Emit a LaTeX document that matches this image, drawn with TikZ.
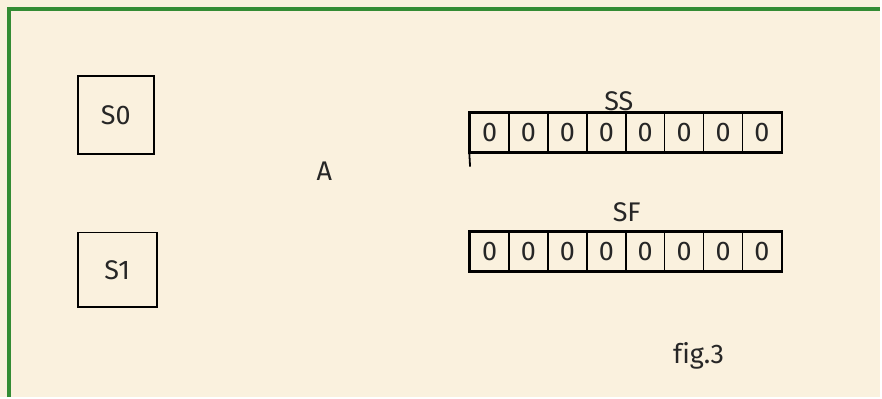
\documentclass[tikz,border=0pt]{standalone}
\usepackage{fontspec}
\setmainfont{Fira Sans}
\definecolor{paper}{RGB}{250,241,222}
\definecolor{framegreen}{RGB}{52,140,52}

\begin{document}
\begin{tikzpicture}[x=1pt, y=-1pt, node distance=39pt,
    every node/.style={font=\fontsize{27}{31}\selectfont, text=black!85},
    statebox/.style={draw, line width=1.8pt, inner sep=0pt},
    cell/.style={draw, line width=1.5pt, minimum width=39pt, minimum height=39pt, inner sep=0pt}]
    % Page and frame
    \fill[paper] (0,0) rectangle (882,398);
    \draw[framegreen, line width=3.5pt] (9,398) -- (9,9) -- (882,9);

    % States
    \node[statebox, minimum width=76pt, minimum height=78pt] (s0) at (116,115) {S0};
    \node[statebox, minimum width=79pt, minimum height=75pt] (s1) at (117.5,270.5) {S1};
    \node (a) at (325,172) {A};

    % Register SS
    \node[cell] (ss1) at (490.5,133) {0};
    \node[cell, right of=ss1] (ss2) {0};
    \node[cell, right of=ss2] (ss3) {0};
    \node[cell, right of=ss3] (ss4) {0};
    \node[cell, right of=ss4] (ss5) {0};
    \node[cell, right of=ss5] (ss6) {0};
    \node[cell, right of=ss6] (ss7) {0};
    \node[cell, right of=ss7] (ss8) {0};
    \draw[line width=2.2pt] (ss1.north west) rectangle (ss8.south east);
    \coordinate (sstail) at (471,167);
    \draw[line width=1.8pt] (ss1.south west) -- (sstail);
    \node (sslabel) at (620,101) {SS};

    % Register SF
    \node[cell] (sf1) at (490.5,252) {0};
    \node[cell, right of=sf1] (sf2) {0};
    \node[cell, right of=sf2] (sf3) {0};
    \node[cell, right of=sf3] (sf4) {0};
    \node[cell, right of=sf4] (sf5) {0};
    \node[cell, right of=sf5] (sf6) {0};
    \node[cell, right of=sf6] (sf7) {0};
    \node[cell, right of=sf7] (sf8) {0};
    \draw[line width=2.2pt] (sf1.north west) rectangle (sf8.south east);
    \node (sflabel) at (628,213) {SF};

    % Caption
    \node (caption) at (700,357) {f\kern0pt ig.3};
\end{tikzpicture}
\end{document}
